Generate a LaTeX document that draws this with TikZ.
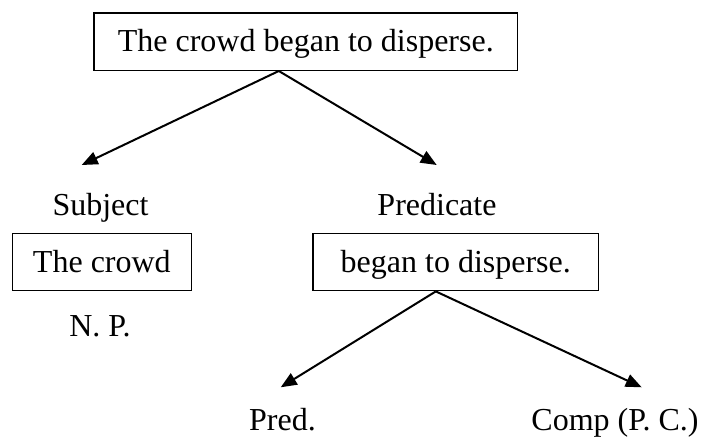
\documentclass[tikz,border=0pt]{standalone}
\usepackage{fontspec}
\setmainfont{Liberation Serif}
\usetikzlibrary{arrows.meta}
\begin{document}
\begin{tikzpicture}[x=1pt,y=-1pt,
		word/.style={font=\fontsize{32}{38}\selectfont, inner sep=0pt, anchor=base},
		box/.style={draw, line width=1.3pt, font=\fontsize{32}{38}\selectfont, inner sep=0pt,
			minimum height=57.4pt, text height=24pt, text depth=4pt, anchor=north west},
		branch/.style={line width=2pt, -{Triangle[length=16pt,width=13pt]}}]
		\useasboundingbox (0,0) rectangle (727,436);
		
		\node[box, minimum width=423.7pt] (sentence) at (93.3,12.3) {The crowd began to disperse.\hspace{11pt}};
		
		\node[word] (subject) at (100.5,215) {Subject};
		\node[word] (predicate) at (437,215) {Predicate};
		\coordinate (subjecttip) at (81.7,165);
		\coordinate (predicatetip) at (436.7,165);
		\draw[branch] ([xshift=-27pt]sentence.south) -- (subjecttip);
		\draw[branch] ([xshift=-27pt]sentence.south) -- (predicatetip);
		
		\node[box, minimum width=179pt] (subjectbox) at (11.7,232.7) {The crowd};
		\node[box, minimum width=285.7pt] (predicatebox) at (312.3,232.7) {began to disperse.\hspace{13.4pt}};
		\node[word] (np) at (100,336) {N. P.};
		
		\node[word] (pred) at (282.5,430) {Pred.};
		\node[word] (comp) at (615,430) {Comp (P. C.)};
		\coordinate (predtip) at (280.7,387.3);
		\coordinate (comptip) at (641.7,387.3);
		\draw[branch] ([xshift=-20pt]predicatebox.south) -- (predtip);
		\draw[branch] ([xshift=-20pt]predicatebox.south) -- (comptip);
	\end{tikzpicture}
\end{document}
